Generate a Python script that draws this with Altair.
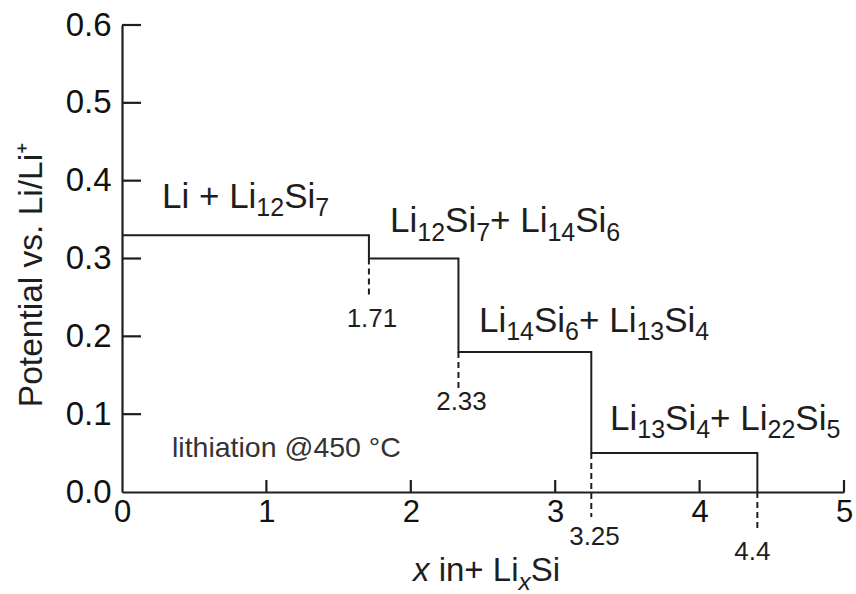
import re
import altair as alt
import pandas as pd

FONT = "Liberation Sans"
INK = "#1e1e1e"

# Plateau boundaries (x in LixSi) and the potential after each boundary
step_x = [0, 1.71, 2.33, 3.25, 4.4]
step_v = [0.33, 0.30, 0.18, 0.05, 0.0]

# Composition markers: dotted drop lines with their value labels
mark_x = [1.71, 2.33, 3.25, 4.4]
mark_top = [0.30, 0.18, 0.05, 0.0]
mark_bottom = [0.249, 0.131, -0.032, -0.051]
mark_label = ["1.71", "2.33", "3.25", "4.4"]
mark_label_x = [1.731, 2.351, 3.272, 4.366]
mark_label_y = [0.212, 0.105, -0.068, -0.0874]

# Two-phase region labels (subscripts written as _{..})
phase_label = ["Li + Li_{12}Si_{7}", "Li_{12}Si_{7}+ Li_{14}Si_{6}",
               "Li_{14}Si_{6}+ Li_{13}Si_{4}", "Li_{13}Si_{4}+ Li_{22}Si_{5}"]
phase_x = [0.277, 1.856, 2.472, 3.380]
phase_y = [0.365, 0.334, 0.2056, 0.0797]

x_ticks = [1, 2, 3, 4, 5]
y_ticks = [0.1, 0.2, 0.3, 0.4, 0.5, 0.6]

W, H = 722, 467
X_PER_PX = 5 / W
Y_PER_PX = 0.6 / H

# Liberation Sans advance widths (1/1000 em) for laying out rich-text runs
ADV = {" ": 278, "+": 584, "L": 556, "S": 667, "i": 222, "n": 556, "x": 500}
ADV.update({d: 556 for d in "0123456789"})


def run_width(s, size):
    return sum(ADV[c] for c in s) * size / 1000


def layout(runs, x0, y0, main, sub, drop):
    """runs: list of (text, is_sub, italic); returns one row per run."""
    rows, px = [], 0.0
    for text, is_sub, italic in runs:
        size = sub if is_sub else main
        lead = len(text) - len(text.lstrip(" "))
        px += run_width(" " * lead, size)
        body = text.strip(" ")
        rows.append({"x": x0 + px * X_PER_PX,
                     "y": y0 - (drop if is_sub else 0) * Y_PER_PX,
                     "t": body, "fs": size, "italic": italic})
        px += run_width(body, size)
    return rows


def parse(label):
    runs = []
    for i, part in enumerate(re.split(r"_\{([^}]*)\}", label)):
        if part:
            runs.append((part, i % 2 == 1, False))
    return runs


phase_rows = []
for lab, px0, py0 in zip(phase_label, phase_x, phase_y):
    phase_rows += layout(parse(lab), px0, py0, 35, 25, 8.5)

xtitle_runs = [("x", False, True), (" in+ Li", False, False), ("x", True, True), ("Si", False, False)]
xtitle_rows = layout(xtitle_runs, (413 - 122) * X_PER_PX, -0.1145, 33, 24.5, 9)

rich = pd.DataFrame(phase_rows + xtitle_rows)

xs = alt.Scale(domain=[0, 5], nice=False, zero=False)
ys = alt.Scale(domain=[0, 0.6], nice=False, zero=False)

steps = pd.DataFrame({"x": step_x, "v": step_v})
markers = pd.DataFrame({"x": mark_x, "top": mark_top, "bottom": mark_bottom,
                        "label": mark_label, "lx": mark_label_x, "ly": mark_label_y})

curve = alt.Chart(steps).mark_line(interpolate="step-after", color=INK, strokeWidth=2).encode(
    x=alt.X("x:Q", scale=xs,
            axis=alt.Axis(values=[0, 1, 2, 3, 4, 5], format="d", title=None, ticks=False,
                          labelPadding=5, labelFontSize=31, labelFlush=False, grid=False)),
    y=alt.Y("v:Q", scale=ys,
            axis=alt.Axis(values=[0, 0.1, 0.2, 0.3, 0.4, 0.5, 0.6], format=".1f",
                          title=None, ticks=False, labelPadding=11, labelFontSize=33,
                          grid=False)),
)

drops = alt.Chart(markers).mark_rule(color=INK, strokeWidth=2, strokeDash=[6, 4]).encode(
    x="x:Q", y="top:Q", y2="bottom:Q")

drop_text = alt.Chart(markers).mark_text(font=FONT, fontSize=26, color=INK,
                                         baseline="alphabetic").encode(
    x="lx:Q", y="ly:Q", text="label:N")

rich_upright = alt.Chart(rich).transform_filter("!datum.italic").mark_text(
    font=FONT, color=INK, align="left", baseline="alphabetic").encode(
    x="x:Q", y="y:Q", text="t:N", size=alt.Size("fs:Q", scale=None, legend=None))

rich_italic = alt.Chart(rich).transform_filter("datum.italic").mark_text(
    font=FONT, fontStyle="italic", color=INK, align="left", baseline="alphabetic").encode(
    x="x:Q", y="y:Q", text="t:N", size=alt.Size("fs:Q", scale=None, legend=None))

note = alt.Chart(pd.DataFrame({"t": ["lithiation @450 °C"], "x": [0.346], "y": [0.045]})).mark_text(
    font=FONT, fontSize=28.5, color="#333333", align="left", baseline="alphabetic").encode(
    x="x:Q", y="y:Q", text="t:N")

# Vertical axis title
ytitle = alt.Chart(pd.DataFrame({"t": ["Potential vs. Li/Li⁺"]})).mark_text(
    font=FONT, fontSize=33.5, color=INK, angle=270, align="center", baseline="alphabetic").encode(
    x=alt.value(-80), y=alt.value(250), text="t:N")

# Inward-pointing axis ticks
yt = alt.Chart(pd.DataFrame({"v": y_ticks})).mark_rule(color=INK, strokeWidth=2.2).encode(
    y="v:Q", x=alt.value(0), x2=alt.value(19))
xt = alt.Chart(pd.DataFrame({"x": x_ticks})).mark_rule(color=INK, strokeWidth=2.2).encode(
    x="x:Q", y=alt.value(H), y2=alt.value(H - 12))

chart = alt.layer(curve, drops, drop_text, rich_upright, rich_italic, note, ytitle, yt, xt).properties(
    width=W, height=H,
    autosize=alt.AutoSizeParams(type="none"),
    padding={"left": 122, "top": 25, "right": 12, "bottom": 102},
).configure_view(stroke=None).configure_axis(
    domainColor=INK, domainWidth=2.2,
    labelFont=FONT, labelColor="#111111",
)

chart.save("out.html", embed_options={"renderer": "svg", "actions": False})
